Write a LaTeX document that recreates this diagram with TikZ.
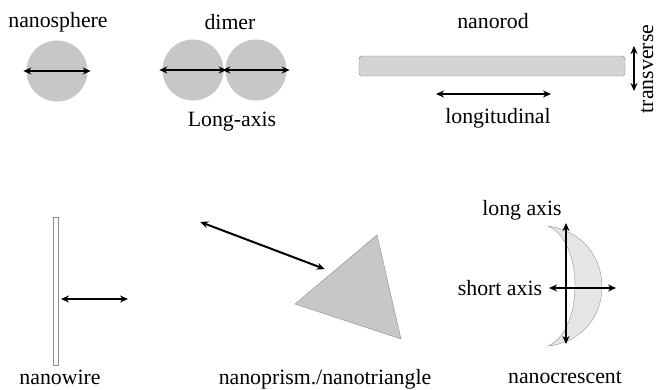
\documentclass[tikz,border=0pt]{standalone}
\usepackage{fontspec}
\setmainfont{Liberation Serif}
\usepackage{tikz}
\usetikzlibrary{arrows.meta,positioning,calc}

\begin{document}
\begin{tikzpicture}[
    x=1pt, y=-1pt,
    >={Stealth[length=8pt,width=7pt]},
    font=\fontsize{21.8}{25}\selectfont,
    lbl/.style={inner sep=0pt, anchor=center},
    ball/.style={
        circle,
        fill=black!22,
        draw=none,
        minimum size=61pt,
        inner sep=0pt
    },
    rod/.style={
        rectangle,
        draw=black!50,
        rounded corners=3pt,
        fill=black!17,
        minimum width=266pt,
        minimum height=20pt,
        inner sep=0pt
    },
    wire/.style={
        rectangle,
        draw=black!45,
        fill=white,
        minimum width=5pt,
        minimum height=148pt,
        inner sep=0pt
    },
    arr/.style={<->, line width=2pt, shorten <=-3pt, shorten >=-3pt}
]
\useasboundingbox (0,0) rectangle (658,389);

\node[ball] (sphere) at (57,71) {};
\node[lbl] (sphlab) at (58,22) {nanosphere};
\draw[arr] (sphere.west) -- (sphere.east);

\node[ball] (dimL) at (193,70) {};
\node[ball] (dimR) at (256,70) {};
\node[lbl] (dimlab) at (230,22) {dimer};
\node[lbl] (longax) at (232,122) {Long-axis};
\draw[arr] (dimL.west) -- (dimL.east);
\draw[arr] (dimR.west) -- (dimR.east);

\node[rod] (nrod) at (492,66) {};
\node[lbl] (rodlab) at (493,21) {nanorod};
\coordinate (lonA) at (439,94);
\coordinate (lonB) at (548,94);
\node[lbl] (lonlab) at (498,118) {longitudinal};
\draw[arr] (lonA) -- (lonB);
\coordinate (trA) at (634,49);
\coordinate (trB) at (634,88);
\node[lbl, rotate=90] (trlab) at (647,69) {transverse};
\draw[arr] (trA) -- (trB);

\node[wire] (nwire) at (55.5,291) {};
\node[lbl] (wirelab) at (60,377) {nanowire};
\coordinate (wiA) at (64,299);
\coordinate (wiB) at (125,299);
\draw[arr] (wiA) -- (wiB);

\draw[draw=black!45, fill=black!22] (377,235) coordinate (triT)
    -- (401,339) coordinate (triB) -- (295,304) coordinate (triL) -- cycle;
\coordinate (priA) at (203,223);
\coordinate (priB) at (322,268);
\node[lbl] (prilab) at (325,379) {nanoprism./nanotriangle};
\draw[arr] (priA) -- (priB);

\draw[draw=black!40, fill=black!10] (548,226) coordinate (crT)
    .. controls (620,236) and (620,338) .. (548,346) coordinate (crB)
    .. controls (584,330) and (584,242) .. cycle;
\coordinate (laA) at (566,226);
\coordinate (laB) at (566,341);
\coordinate (saA) at (552,288);
\coordinate (saB) at (613,288);
\node[lbl] (lalab) at (522,210) {long axis};
\node[lbl] (salab) at (500,288) {short axis};
\node[lbl] (crlab) at (565,377) {nanocrescent};
\draw[arr] (laA) -- (laB);
\draw[arr] (saA) -- (saB);

\end{tikzpicture}
\end{document}
